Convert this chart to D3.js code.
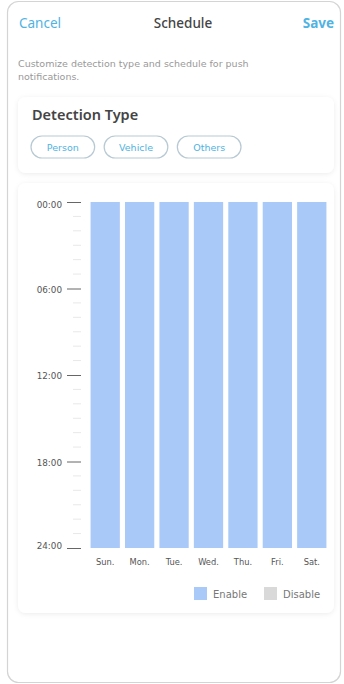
<!DOCTYPE html>
<html>
<head>
<meta charset="utf-8">
<script src="https://cdn.jsdelivr.net/npm/d3@7"></script>
<style>
  body { margin: 0; background: #fff; font-family: "Noto Sans", Roboto, sans-serif; }
</style>
</head>
<body>
<div id="chart"></div>
<script>
const days = ["Sun.", "Mon.", "Tue.", "Wed.", "Thu.", "Fri.", "Sat."]
const enableStart = [0, 0, 0, 0, 0, 0, 0]
const enableEnd = [24, 24, 24, 24, 24, 24, 24]
const hourTicks = [0, 6, 12, 18, 24]
const hourLabels = ["00:00", "06:00", "12:00", "18:00", "24:00"]
const detectionTypes = ["Person", "Vehicle", "Others"]
const legendItems = ["Enable", "Disable"]

const width = 344
const height = 684
const blue = "#4fb3e3"
const barColor = "#a9c9f8"
const wideFont = "\"DejaVu Sans\", Verdana, sans-serif"

const svg = d3.select("#chart").append("svg")
  .attr("width", width)
  .attr("height", height)

const defs = svg.append("defs")
const shadow = defs.append("filter").attr("id", "shadow")
  .attr("x", "-10%").attr("y", "-10%").attr("width", "120%").attr("height", "120%")
shadow.append("feDropShadow")
  .attr("dx", 0).attr("dy", 1).attr("stdDeviation", 2.5)
  .attr("flood-color", "#000").attr("flood-opacity", 0.08)

// phone frame
svg.append("rect")
  .attr("x", 7.5).attr("y", 1.5).attr("width", 333).attr("height", 681)
  .attr("rx", 11)
  .attr("fill", "#fff").attr("stroke", "#d4d4d4").attr("stroke-width", 1.2)

// header
svg.append("text").attr("x", 19).attr("y", 28)
  .attr("font-size", 13.5).attr("fill", blue).text("Cancel")
svg.append("text").attr("x", 183).attr("y", 28).attr("text-anchor", "middle")
  .attr("font-size", 13.5).attr("font-weight", 500).attr("fill", "#444").text("Schedule")
svg.append("text").attr("x", 334).attr("y", 28).attr("text-anchor", "end")
  .attr("font-size", 13.5).attr("font-weight", 700).attr("fill", blue).text("Save")

svg.append("text").attr("x", 18).attr("y", 67).attr("font-family", wideFont)
  .attr("font-size", 9.5).attr("fill", "#999").text("Customize detection type and schedule for push")
svg.append("text").attr("x", 18).attr("y", 80).attr("font-family", wideFont)
  .attr("font-size", 9.5).attr("fill", "#999").text("notifications.")

// detection type card
svg.append("rect")
  .attr("x", 18).attr("y", 97).attr("width", 316).attr("height", 76).attr("rx", 8)
  .attr("fill", "#fff").attr("filter", "url(#shadow)")
svg.append("text").attr("x", 32).attr("y", 120)
  .attr("font-size", 14.5).attr("font-weight", 600).attr("fill", "#444").text("Detection Type")

const pillX = d3.scaleBand().domain(detectionTypes).range([31, 241]).paddingInner(0.13)
const pills = svg.append("g").selectAll("g").data(detectionTypes).join("g")
  .attr("transform", d => `translate(${pillX(d)},136)`)
pills.append("rect")
  .attr("width", pillX.bandwidth()).attr("height", 22).attr("rx", 11)
  .attr("fill", "#fff").attr("stroke", "#b7c9d3").attr("stroke-width", 1.2)
pills.append("text")
  .attr("x", pillX.bandwidth() / 2).attr("y", 15).attr("text-anchor", "middle")
  .attr("font-family", wideFont)
  .attr("font-size", 9.5).attr("fill", blue).text(d => d)

// schedule card
svg.append("rect")
  .attr("x", 18).attr("y", 183).attr("width", 316).attr("height", 430).attr("rx", 8)
  .attr("fill", "#fff").attr("filter", "url(#shadow)")

const x = d3.scaleBand().domain(days).range([88, 329]).paddingInner(0.15).paddingOuter(0.075)
const y = d3.scaleLinear().domain([0, 24]).range([202, 548])

// minor hour ticks
svg.append("g").selectAll("line").data(d3.range(0, 25).filter(h => h % 6 !== 0)).join("line")
  .attr("x1", 73).attr("x2", 81)
  .attr("y1", d => y(d)).attr("y2", d => y(d))
  .attr("stroke", "#e8e8e8").attr("stroke-width", 1)

// major ticks + labels
const yAxis = d3.axisLeft(y)
  .tickValues(hourTicks)
  .tickFormat((d, i) => hourLabels[i])
  .tickSize(14)
  .tickPadding(5)
const yg = svg.append("g").attr("transform", "translate(81,0)").call(yAxis)
yg.select(".domain").remove()
yg.selectAll(".tick line").attr("stroke", "#666").attr("stroke-width", 1)
yg.selectAll(".tick text").attr("fill", "#555").attr("font-size", 8.8)
  .attr("font-family", wideFont)
  .attr("dy", (d, i) => i === 0 ? "0.65em" : i === hourTicks.length - 1 ? "0.05em" : "0.4em")

// bars
svg.append("g").selectAll("rect").data(days).join("rect")
  .attr("x", d => x(d))
  .attr("y", (d, i) => y(enableStart[i]))
  .attr("width", x.bandwidth())
  .attr("height", (d, i) => y(enableEnd[i]) - y(enableStart[i]))
  .attr("fill", barColor)

// day axis
const xAxis = d3.axisBottom(x).tickSize(0).tickPadding(11)
const xg = svg.append("g").attr("transform", `translate(0,${y(24)})`).call(xAxis)
xg.select(".domain").remove()
xg.selectAll(".tick text").attr("fill", "#555").attr("font-size", 8.3)
  .attr("font-family", wideFont)

// legend
const legendColor = d3.scaleOrdinal().domain(legendItems).range([barColor, "#d9d9d9"])
const legendX = d3.scaleOrdinal().domain(legendItems).range([194, 264])
const lg = svg.append("g").selectAll("g").data(legendItems).join("g")
  .attr("transform", d => `translate(${legendX(d)},587)`)
lg.append("rect").attr("width", 13).attr("height", 13).attr("fill", d => legendColor(d))
lg.append("text").attr("x", 19).attr("y", 10.5)
  .attr("font-family", wideFont)
  .attr("font-size", 10).attr("fill", "#777").text(d => d)
</script>
</body>
</html>
